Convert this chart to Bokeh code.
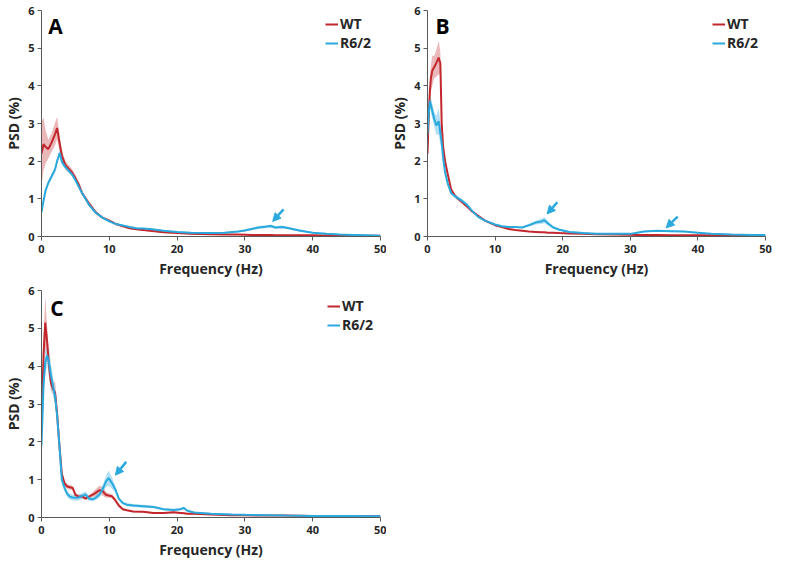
from bokeh.plotting import figure
from bokeh.models import (Range1d, Legend, LegendItem, Label, Arrow, NormalHead,
                          FixedTicker, ColumnDataSource)
from bokeh.layouts import column, row
from bokeh.embed import file_html
from bokeh.resources import INLINE

# ---------------- data ----------------
x_ticks = [0, 10, 20, 30, 40, 50]
y_ticks = [0, 1, 2, 3, 4, 5, 6]
series_names = ["WT", "R6/2"]

# Panel A
freq_a = [0, 0.3, 0.6, 1.0, 1.5, 2.0, 2.3, 2.7, 3.0, 3.5, 4.0, 4.5, 5.0, 5.5, 6.0, 7.0, 8.0, 9.0,
          10, 11, 12, 13, 14, 15, 16, 18, 20, 22, 25, 27, 29, 30, 31, 32, 33, 33.8, 34.5, 35.5,
          36.5, 38, 40, 42, 44, 46, 48, 50]
wt_a = [2.2, 2.45, 2.38, 2.32, 2.5, 2.72, 2.88, 2.45, 2.15, 1.9, 1.8, 1.7, 1.55, 1.38, 1.15, 0.88,
        0.64, 0.5, 0.42, 0.33, 0.27, 0.22, 0.19, 0.17, 0.15, 0.11, 0.09, 0.07, 0.06, 0.05, 0.05,
        0.045, 0.04, 0.04, 0.04, 0.04, 0.035, 0.035, 0.03, 0.03, 0.03, 0.025, 0.02, 0.02, 0.02, 0.02]
wt_a_sem = [0.85, 0.7, 0.45, 0.25, 0.25, 0.3, 0.3, 0.2, 0.15, 0.12, 0.1, 0.1, 0.08, 0.06, 0.05, 0.04,
            0.04, 0.03, 0.03, 0.03, 0.02, 0.02, 0.02, 0.02, 0.02, 0.02, 0.01, 0.01, 0.01, 0.01, 0.01,
            0.01, 0.01, 0.01, 0.01, 0.01, 0.01, 0.01, 0.01, 0.01, 0.01, 0.01, 0.01, 0.01, 0.01, 0.01]
r62_a = [0.65, 0.95, 1.22, 1.42, 1.6, 1.78, 2.0, 2.22, 1.98, 1.85, 1.75, 1.65, 1.5, 1.32, 1.15, 0.84,
         0.63, 0.5, 0.4, 0.33, 0.29, 0.25, 0.22, 0.21, 0.2, 0.15, 0.12, 0.1, 0.09, 0.1, 0.13, 0.16,
         0.2, 0.24, 0.26, 0.28, 0.24, 0.25, 0.22, 0.16, 0.1, 0.07, 0.05, 0.04, 0.03, 0.02]
r62_a_sem = [0.1, 0.08, 0.07, 0.06, 0.06, 0.06, 0.07, 0.08, 0.07, 0.06, 0.06, 0.05, 0.05, 0.04, 0.04,
             0.03, 0.03, 0.03, 0.02, 0.02, 0.02, 0.02, 0.02, 0.02, 0.02, 0.02, 0.02, 0.02, 0.02, 0.02,
             0.02, 0.03, 0.03, 0.04, 0.04, 0.04, 0.04, 0.04, 0.03, 0.03, 0.02, 0.02, 0.01, 0.01, 0.01, 0.01]

# Panel B
freq_b = [0, 0.2, 0.35, 0.5, 0.7, 1.0, 1.3, 1.65, 1.9, 2.1, 2.3, 2.6, 3.0, 3.5, 4.0, 4.5, 5.0, 5.8,
          6.5, 7.5, 8.5, 10, 11, 12, 13, 14, 15, 16, 16.8, 17.3, 17.8, 18.5, 19.5, 21, 23, 25, 28,
          30, 31, 32, 34, 36, 38, 40, 42, 45, 48, 50]
wt_b = [2.2, 3.3, 3.85, 4.2, 4.4, 4.5, 4.6, 4.75, 4.6, 3.0, 2.4, 2.0, 1.65, 1.25, 1.1, 1.0, 0.93,
        0.8, 0.68, 0.55, 0.42, 0.3, 0.25, 0.2, 0.17, 0.15, 0.13, 0.12, 0.11, 0.11, 0.1, 0.1, 0.09,
        0.08, 0.07, 0.06, 0.05, 0.045, 0.04, 0.04, 0.04, 0.035, 0.03, 0.03, 0.03, 0.02, 0.02, 0.02]
wt_b_sem = [0.2, 0.25, 0.3, 0.35, 0.4, 0.3, 0.35, 0.45, 0.3, 0.2, 0.1, 0.08, 0.06, 0.05, 0.05, 0.04,
            0.04, 0.03, 0.03, 0.02, 0.02, 0.02, 0.02, 0.01, 0.01, 0.01, 0.01, 0.01, 0.01, 0.01, 0.01,
            0.01, 0.01, 0.01, 0.01, 0.01, 0.01, 0.01, 0.01, 0.01, 0.01, 0.01, 0.01, 0.01, 0.01, 0.01,
            0.01, 0.01]
r62_b = [2.7, 3.3, 3.6, 3.5, 3.34, 3.12, 2.95, 3.06, 2.75, 2.5, 2.1, 1.7, 1.4, 1.15, 1.08, 1.02, 0.96,
         0.85, 0.7, 0.52, 0.42, 0.32, 0.27, 0.25, 0.25, 0.24, 0.3, 0.37, 0.4, 0.43, 0.35, 0.25, 0.18,
         0.12, 0.09, 0.07, 0.07, 0.07, 0.1, 0.13, 0.15, 0.14, 0.13, 0.1, 0.07, 0.05, 0.04, 0.04]
r62_b_sem = [0.2, 0.2, 0.2, 0.2, 0.2, 0.2, 0.25, 0.35, 0.3, 0.15, 0.08, 0.06, 0.05, 0.05, 0.05, 0.05,
             0.05, 0.04, 0.03, 0.03, 0.02, 0.02, 0.02, 0.02, 0.02, 0.02, 0.03, 0.05, 0.07, 0.08, 0.06,
             0.04, 0.03, 0.02, 0.02, 0.01, 0.01, 0.01, 0.02, 0.02, 0.02, 0.02, 0.02, 0.02, 0.01, 0.01,
             0.01, 0.01]

# Panel C
freq_c = [0, 0.3, 0.55, 0.85, 1.1, 1.4, 1.7, 2.0, 2.3, 2.6, 3.0, 3.4, 3.8, 4.2, 4.6, 5.0, 5.5, 6.0,
          6.5, 7.0, 7.5, 8.0, 8.5, 9.0, 9.5, 9.9, 10.4, 10.9, 11.4, 12.0, 12.6, 13.5, 15, 16.5, 18,
          19.5, 20.5, 21, 21.5, 22.5, 25, 28, 30, 33, 36, 40, 45, 50]
wt_c = [2.25, 4.3, 5.15, 4.6, 4.05, 3.55, 3.4, 3.3, 2.75, 2.0, 1.15, 0.9, 0.82, 0.8, 0.78, 0.6, 0.55,
        0.56, 0.5, 0.55, 0.6, 0.65, 0.72, 0.7, 0.6, 0.58, 0.56, 0.45, 0.32, 0.22, 0.19, 0.16, 0.15,
        0.12, 0.12, 0.14, 0.12, 0.11, 0.1, 0.1, 0.08, 0.06, 0.06, 0.05, 0.05, 0.04, 0.03, 0.03]
wt_c_sem = [0.3, 0.4, 0.7, 0.4, 0.3, 0.2, 0.15, 0.3, 0.2, 0.15, 0.1, 0.08, 0.06, 0.06, 0.06, 0.05,
            0.05, 0.05, 0.04, 0.04, 0.06, 0.1, 0.12, 0.12, 0.08, 0.06, 0.05, 0.05, 0.04, 0.03, 0.02,
            0.02, 0.02, 0.02, 0.02, 0.02, 0.02, 0.02, 0.02, 0.02, 0.01, 0.01, 0.01, 0.01, 0.01, 0.01,
            0.01, 0.01]
r62_c = [1.9, 3.5, 4.1, 4.28, 4.1, 3.75, 3.48, 3.2, 2.7, 2.0, 1.0, 0.78, 0.62, 0.55, 0.53, 0.52, 0.53,
         0.57, 0.61, 0.5, 0.48, 0.52, 0.6, 0.74, 0.95, 1.04, 0.91, 0.74, 0.5, 0.38, 0.34, 0.32, 0.3,
         0.28, 0.22, 0.2, 0.22, 0.25, 0.18, 0.13, 0.1, 0.08, 0.07, 0.06, 0.05, 0.04, 0.04, 0.03]
r62_c_sem = [0.2, 0.25, 0.3, 0.25, 0.4, 0.3, 0.25, 0.2, 0.15, 0.12, 0.1, 0.08, 0.08, 0.08, 0.08,
             0.08, 0.08, 0.08, 0.08, 0.06, 0.05, 0.06, 0.08, 0.1, 0.15, 0.2, 0.15, 0.08, 0.05, 0.04,
             0.04, 0.04, 0.04, 0.03, 0.03, 0.03, 0.03, 0.04, 0.03, 0.02, 0.02, 0.02, 0.01, 0.01,
             0.01, 0.01, 0.01, 0.01]

# arrows (x_start, y_start, x_end, y_end) in data units
arrows_a = [(35.7, 0.72, 34.1, 0.40)]
arrows_b = [(19.2, 0.91, 17.7, 0.60), (37.0, 0.53, 35.3, 0.23)]
arrows_c = [(12.5, 1.47, 10.9, 1.12)]

# ---------------- style ----------------
FONT = "Open Sans"
RED = "#c1272d"
RED_BAND = "#e39a9c"
BLUE = "#2aa9dd"
BLUE_BAND = "#93d3ef"
TXT = "#262626"


def make_panel(letter, freq, wt, wt_sem, r6, r6_sem, arrows, left, right, top, bottom,
               fw, fh, legend_xy, letter_xy):
    p = figure(frame_width=fw, frame_height=fh, output_backend="svg", toolbar_location=None,
               x_range=Range1d(0, 50), y_range=Range1d(0, 6),
               min_border_left=left, min_border_right=right,
               min_border_top=top, min_border_bottom=bottom)
    p.outline_line_color = None
    p.xgrid.visible = False
    p.ygrid.visible = False
    p.background_fill_color = "white"
    p.border_fill_color = "white"

    src = ColumnDataSource(dict(
        f=freq,
        wt=wt, wt_lo=[m - s for m, s in zip(wt, wt_sem)], wt_hi=[m + s for m, s in zip(wt, wt_sem)],
        r6=r6, r6_lo=[m - s for m, s in zip(r6, r6_sem)], r6_hi=[m + s for m, s in zip(r6, r6_sem)],
    ))
    p.varea(x="f", y1="wt_lo", y2="wt_hi", source=src, fill_color=RED_BAND, fill_alpha=0.7)
    p.varea(x="f", y1="r6_lo", y2="r6_hi", source=src, fill_color=BLUE_BAND, fill_alpha=0.7)
    l_wt = p.line(x="f", y="wt", source=src, line_color=RED, line_width=2)
    l_r6 = p.line(x="f", y="r6", source=src, line_color=BLUE, line_width=2)

    for (xs, ys, xe, ye) in arrows:
        p.add_layout(Arrow(x_start=xs, y_start=ys, x_end=xe, y_end=ye,
                           line_color=BLUE, line_width=2.5,
                           end=NormalHead(size=8, fill_color=BLUE, line_color=BLUE)))

    legend = Legend(items=[LegendItem(label=series_names[0], renderers=[l_wt]),
                           LegendItem(label=series_names[1], renderers=[l_r6])],
                    location=legend_xy, background_fill_alpha=0, border_line_alpha=0,
                    label_text_font=FONT, label_text_font_style="bold",
                    label_text_font_size="14px", label_text_color=TXT,
                    glyph_width=13, glyph_height=18, label_height=18, spacing=0,
                    padding=0, margin=0, label_standoff=2)
    p.add_layout(legend)

    p.add_layout(Label(x=letter_xy[0], y=letter_xy[1], text=letter, text_font=FONT,
                       text_font_style="bold", text_font_size="21px", text_color="black",
                       text_baseline="alphabetic"))

    p.xaxis.ticker = FixedTicker(ticks=x_ticks)
    p.yaxis.ticker = FixedTicker(ticks=y_ticks)
    p.xaxis.axis_label = "Frequency (Hz)"
    p.yaxis.axis_label = "PSD (%)"
    for ax in (p.xaxis[0], p.yaxis[0]):
        ax.axis_line_color = "#595959"
        ax.axis_line_width = 1
        ax.major_tick_line_color = "#595959"
        ax.major_tick_in = 0
        ax.major_tick_out = 4
        ax.minor_tick_line_color = None
        ax.major_label_text_font = FONT
        ax.major_label_text_font_style = "bold"
        ax.major_label_text_font_size = "11px"
        ax.major_label_text_color = TXT
        ax.axis_label_text_font = FONT
        ax.axis_label_text_font_style = "bold"
        ax.axis_label_text_font_size = "14px"
        ax.axis_label_text_color = TXT
    p.xaxis.major_label_standoff = 4
    p.xaxis.axis_label_standoff = 3
    p.yaxis.major_label_standoff = 3
    p.yaxis.axis_label_standoff = 2
    return p


pa = make_panel("A", freq_a, wt_a, wt_a_sem, r62_a, r62_a_sem, arrows_a,
                41, 6, 10, 46, 339, 226, (284, 184), (1.0, 5.6))
pb = make_panel("B", freq_b, wt_b, wt_b_sem, r62_b, r62_b_sem, arrows_b,
                41, 18, 10, 46, 338, 226, (285, 184), (1.2, 5.6))
pc = make_panel("C", freq_c, wt_c, wt_c_sem, r62_c, r62_c_sem, arrows_c,
                41, 6, 8, 44, 339, 227, (286, 183), (1.3, 5.55))

layout = column(row(pa, pb), pc)
open("out.html", "w").write(file_html(layout, INLINE))
